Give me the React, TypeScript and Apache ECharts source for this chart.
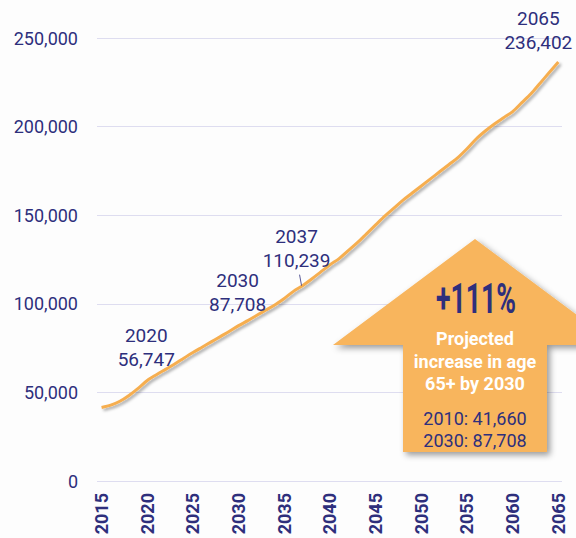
import React, { useEffect, useRef } from "react";
import * as echarts from "echarts";

const years = [
  2015, 2016, 2017, 2018, 2019, 2020, 2021, 2022, 2023, 2024,
  2025, 2026, 2027, 2028, 2029, 2030, 2031, 2032, 2033, 2034,
  2035, 2036, 2037, 2038, 2039, 2040, 2041, 2042, 2043, 2044,
  2045, 2046, 2047, 2048, 2049, 2050, 2051, 2052, 2053, 2054,
  2055, 2056, 2057, 2058, 2059, 2060, 2061, 2062, 2063, 2064, 2065,
];

const population = [
  41500, 42800, 45000, 48300, 52300, 56747, 60000, 63000, 66000, 69300,
  72500, 75500, 78500, 81500, 84500, 87708, 90500, 93500, 96500, 99500,
  103000, 107000, 110239, 114000, 118000, 122000, 125500, 130000, 134500, 139500,
  144500, 149500, 154000, 158500, 162500, 166500, 170500, 174500, 178500, 182500,
  187500, 193000, 197500, 201500, 205000, 208500, 213500, 218500, 224500, 230500, 236402,
];

const xTickLabels = [2015, 2020, 2025, 2030, 2035, 2040, 2045, 2050, 2055, 2060, 2065];
const yTicks = [0, 50000, 100000, 150000, 200000, 250000];

const calloutYears = [2020, 2030, 2037, 2065];
const calloutValues = [56747, 87708, 110239, 236402];

const arrowHeadline = "+111%";
const arrowLines = ["Projected", "increase in age", "65+ by 2030"];
const arrowFigures = ["2010: 41,660", "2030: 87,708"];

const NAVY = "#2E2F7C";
const ORANGE_LINE = "#F6AE50";
const ORANGE_FILL = "#F8B55D";
const GRID = "#DEDDF0";
const FONT = "Roboto, 'Noto Sans', sans-serif";

const fmt = (v: number) => v.toLocaleString("en-US");

export default function App() {
  const ref = useRef<HTMLDivElement>(null);

  useEffect(() => {
    if (!ref.current) return;
    const chart = echarts.init(ref.current, null, { renderer: "svg" });

    chart.setOption({
      animation: false,
      backgroundColor: "#FDFDFD",
      grid: { left: 97, right: 14, top: 38, bottom: 57, containLabel: false },
      xAxis: {
        type: "value",
        min: 2014.5,
        max: 2065.4,
        axisLine: { show: false },
        axisTick: { show: false },
        splitLine: { show: false },
        axisLabel: {
          customValues: xTickLabels,
          rotate: 90,
          margin: 12,
          color: NAVY,
          fontFamily: FONT,
          fontWeight: "bold",
          fontSize: 18,
          formatter: (v: number) => String(v),
        },
      },
      yAxis: {
        type: "value",
        min: yTicks[0],
        max: yTicks[yTicks.length - 1],
        interval: 50000,
        axisLine: { show: false },
        axisTick: { show: false },
        splitLine: { lineStyle: { color: GRID, width: 1 } },
        axisLabel: {
          margin: 19,
          color: NAVY,
          fontFamily: FONT,
          fontSize: 18,
          formatter: (v: number) => fmt(v),
        },
      },
      series: [
        {
          type: "line",
          data: years.map((y, i) => [y, population[i]]),
          smooth: 0.3,
          symbol: "none",
          lineStyle: {
            color: ORANGE_LINE,
            width: 3,
            shadowColor: "rgba(0,0,0,0.35)",
            shadowBlur: 3,
            shadowOffsetX: 2,
            shadowOffsetY: 2,
          },
        },
      ],
    });

    const offsets: [number, number][] = [
      [-1, -33],
      [-1, -33],
      [-6, -37],
      [-20, -32],
    ];

    const graphics: any[] = [];

    calloutYears.forEach((yr, i) => {
      const p = chart.convertToPixel({ gridIndex: 0 }, [yr, calloutValues[i]]) as number[];
      graphics.push({
        type: "text",
        x: p[0] + offsets[i][0],
        y: p[1] + offsets[i][1],
        z: 10,
        style: {
          text: `${yr}\n${fmt(calloutValues[i])}`,
          fill: NAVY,
          font: `19px ${FONT}`,
          lineHeight: 24,
          align: "center",
          verticalAlign: "middle",
        },
      });
      if (yr === 2037) {
        graphics.push({
          type: "line",
          z: 10,
          shape: { x1: p[0] - 3, y1: p[1] - 11, x2: p[0] - 1, y2: p[1] },
          style: { stroke: NAVY, lineWidth: 0.8 },
        });
      }
    });

    // Arrow callout
    graphics.push({
      type: "polygon",
      z: 20,
      shape: {
        points: [
          [475, 239],
          [617, 345],
          [547, 345],
          [547, 452],
          [403, 452],
          [403, 345],
          [333, 345],
        ],
      },
      style: {
        fill: ORANGE_FILL,
        shadowColor: "rgba(0,0,0,0.4)",
        shadowBlur: 6,
        shadowOffsetX: 3,
        shadowOffsetY: 3,
      },
    });
    graphics.push({
      type: "text",
      z: 21,
      x: 476,
      y: 299,
      scaleX: 0.62,
      style: {
        text: arrowHeadline,
        fill: NAVY,
        font: `bold 43px ${FONT}`,
        align: "center",
        verticalAlign: "middle",
      },
    });
    graphics.push({
      type: "text",
      z: 21,
      x: 475,
      y: 361,
      style: {
        text: arrowLines.join("\n"),
        fill: "#FFFFFF",
        font: `bold 18px ${FONT}`,
        lineHeight: 22.5,
        align: "center",
        verticalAlign: "middle",
      },
    });
    graphics.push({
      type: "text",
      z: 21,
      x: 475,
      y: 429,
      style: {
        text: arrowFigures.join("\n"),
        fill: NAVY,
        font: `18px ${FONT}`,
        lineHeight: 22,
        align: "center",
        verticalAlign: "middle",
      },
    });

    chart.setOption({ graphic: graphics });

    return () => chart.dispose();
  }, []);

  return (
    <div
      ref={ref}
      style={{ position: "absolute", left: 0, top: 0, width: 576, height: 538 }}
    />
  );
}
